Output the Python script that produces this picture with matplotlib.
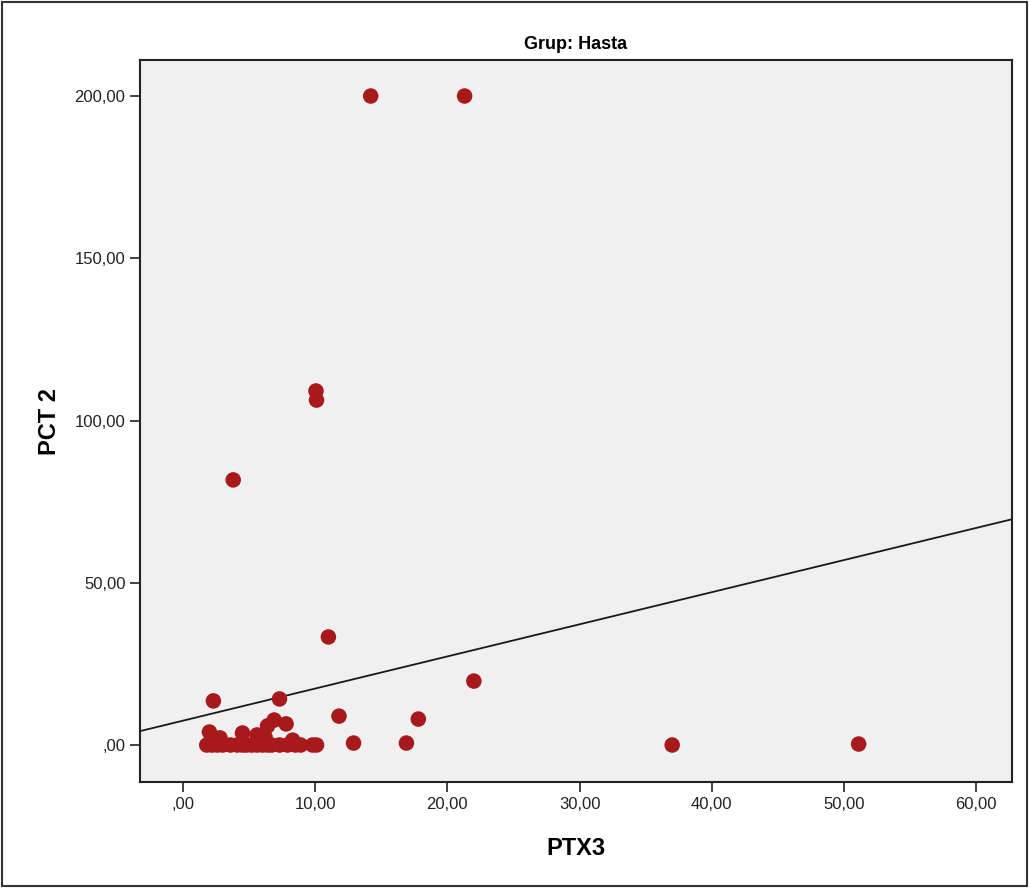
import matplotlib

matplotlib.use('Agg')
from matplotlib import pyplot as plt
from matplotlib.ticker import FuncFormatter, MultipleLocator
from matplotlib.patches import Rectangle
import numpy as np

plt.rcParams['font.family'] = ['Liberation Sans Narrow', 'Liberation Sans', 'DejaVu Sans']

# PTX3 (x) and PCT 2 (y) values
ptx3 = [14.2, 21.3, 10.06, 10.1, 3.8, 11.0, 22.0, 2.3, 7.3, 11.8, 17.8, 7.8, 6.9, 6.4,
        12.9, 16.9, 37.0, 51.1,
        1.8, 2.2, 2.6, 3.0, 3.6, 4.1, 4.5, 4.8, 5.2, 5.6, 6.0, 6.4, 6.7, 7.3, 7.9,
        8.5, 8.9, 9.8, 10.1,
        2.0, 4.5, 5.6, 6.2, 2.8, 8.3]
pct2 = [200.0, 200.0, 109.1, 106.3, 81.7, 33.3, 19.7, 13.6, 14.2, 8.9, 8.0, 6.5, 7.7, 5.9,
        0.6, 0.6, 0.0, 0.3,
        0.0, 0.0, 0.0, 0.0, 0.0, 0.0, 0.0, 0.0, 0.0, 0.0, 0.0, 0.0, 0.0, 0.0, 0.0,
        0.0, 0.0, 0.0, 0.0,
        4.0, 3.7, 3.1, 2.5, 2.2, 1.5]

# fit line drawn in the picture
intercept = 7.5
slope = 0.99

xlim = (-3.25, 62.7)
ylim = (-11.4, 211.1)


def comma_fmt(v, pos):
    s = "{:.2f}".format(v).replace(".", ",")
    if s.startswith("0,"):
        s = s[1:]
    return s


fig = plt.figure(figsize=(10.29, 8.88), dpi=100)
ax = fig.add_axes([140 / 1029, 1 - 782 / 888, (1012 - 140) / 1029, (782 - 60) / 888])
ax.set_facecolor('#f0f0f0')

ax.scatter(ptx3, pct2, s=125, color='#a8191c', edgecolors='none', zorder=3)

lx = np.array(xlim)
ax.plot(lx, intercept + slope * lx, color='#1a1a1a', lw=1.3, zorder=2)

ax.set_xlim(*xlim)
ax.set_ylim(*ylim)
ax.xaxis.set_major_locator(MultipleLocator(10))
ax.yaxis.set_major_locator(MultipleLocator(50))
ax.xaxis.set_major_formatter(FuncFormatter(comma_fmt))
ax.yaxis.set_major_formatter(FuncFormatter(comma_fmt))
ax.tick_params(direction='out', length=7, width=1.2, labelsize=12, colors='#222222')

for sp in ax.spines.values():
    sp.set_linewidth(1.5)
    sp.set_color('#222222')

ax.set_title("Grup: Hasta", fontsize=13, fontweight='bold', pad=8)
ax.set_xlabel("PTX3", fontsize=17, fontweight='bold', labelpad=18)
ax.set_ylabel("PCT 2", fontsize=17, fontweight='bold', labelpad=10)

# thin frame around the whole picture
fig.patches.append(Rectangle((0.002, 0.002), 0.996, 0.996, transform=fig.transFigure,
                             fill=False, edgecolor='#333333', lw=1.5))

plt.savefig("out.png", dpi=100)
